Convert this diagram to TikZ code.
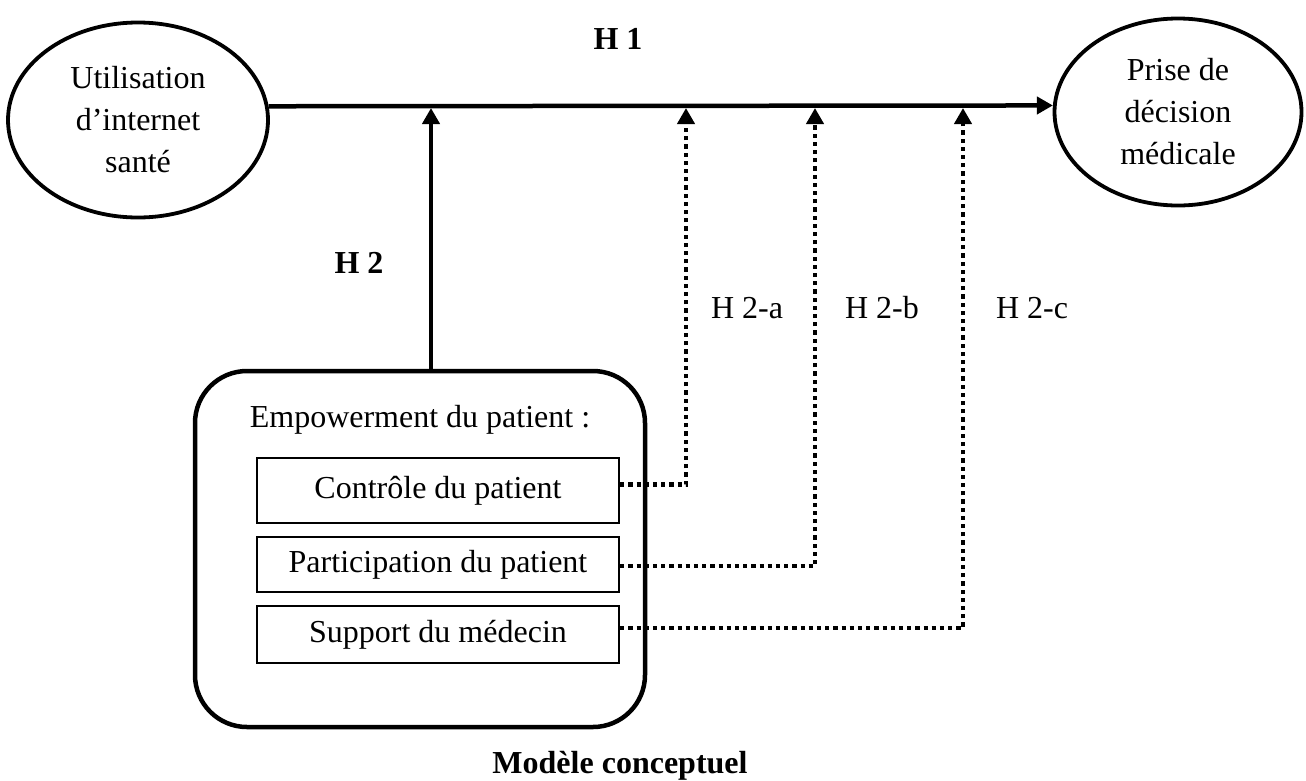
\documentclass[tikz,border=0pt]{standalone}
\usepackage{fontspec}
\setmainfont{Liberation Serif}
\usetikzlibrary{arrows.meta,shapes.geometric}
\begin{document}
\begin{tikzpicture}[x=1pt,y=-1pt,
  every node/.style={font=\fontsize{32}{42}\selectfont},
  oval/.style={draw,ellipse,line width=3.8pt,inner sep=0pt,align=center},
  subbox/.style={draw,line width=2.2pt,minimum width=362pt,inner sep=0pt},
  arr/.style={line width=4.5pt,-{Triangle[width=17pt,length=16pt]}},
  dotarr/.style={line width=4.5pt,dash pattern=on 4.2pt off 4pt,-{Triangle[width=17pt,length=16pt]}},
  lab/.style={anchor=base},
  blab/.style={anchor=base,font=\fontsize{32}{42}\selectfont\bfseries}]
\useasboundingbox (0,0) rectangle (1306,780);
% ellipses
\node[oval,minimum width=260pt,minimum height=195pt] (L) at (138,120) {Utilisation\\d’internet\\santé};
\node[oval,minimum width=247pt,minimum height=187pt] (R) at (1178,112) {Prise de\\décision\\médicale};
% main arrow
\draw[arr] (L.6) -- (R.177);
% empowerment box
\node[draw,line width=4.5pt,rounded corners=52pt,minimum width=450pt,minimum height=356pt] (E) at (420,549) {};
\node[lab] (Et) at (420,427) {Empowerment du patient :};
\node[subbox,minimum height=65pt] (C) at (438,490.5) {Contrôle du patient};
\node[subbox,minimum height=55pt] (P) at (438,564.5) {Participation du patient\hspace{24pt}};
\node[subbox,minimum height=57pt] (S) at (438,634.5) {Support du médecin};
% target coordinates on main line
\coordinate (t0) at (431,108);
\coordinate (ta) at (686,108);
\coordinate (tb) at (815,108);
\coordinate (tc) at (963,108);
\draw[arr] (E.north -| t0) -- (t0);
\draw[dotarr] ([yshift=6pt]C.east) -| (ta);
\draw[dotarr] ([yshift=-1.5pt]P.east) -| (tb);
\draw[dotarr] ([yshift=6.5pt]S.east) -| (tc);
% labels
\node[blab] (h1) at (618,49) {H 1};
\node[blab] (h2) at (359,273) {H 2};
\node[lab] (h2a) at (747,318) {H 2-a};
\node[lab] (h2b) at (882,318) {H 2-b};
\node[lab] (h2c) at (1032,318) {H 2-c};
\node[blab] (title) at (620,773) {Modèle conceptuel};
\end{tikzpicture}
\end{document}
